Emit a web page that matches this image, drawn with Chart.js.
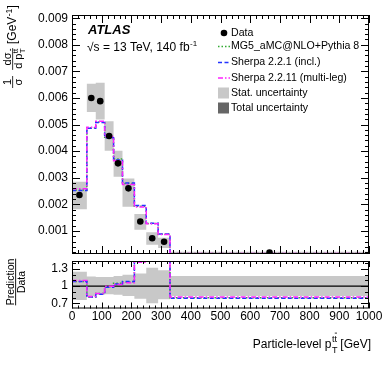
<!DOCTYPE html>
<html>
<head>
<meta charset="utf-8">
<script src="https://cdn.jsdelivr.net/npm/chart.js@4"></script>
<style>
  html, body { margin: 0; padding: 0; background: #fff; }
  #wrap { position: relative; width: 382px; height: 367px; }
  #main { position: absolute; left: 0; top: 0; width: 382px; height: 258px; }
  #ratio { position: absolute; left: 0; top: 258px; width: 382px; height: 109px; }
</style>
</head>
<body>
<div id="wrap">
  <canvas id="main" width="382" height="258"></canvas>
  <canvas id="ratio" width="382" height="109"></canvas>
</div>
<script>
// bins of particle-level pT(ttbar) in GeV
const binEdges = [0, 50, 80, 110, 140, 170, 210, 250, 290, 330, 1000]
const binCenters = [25, 65, 95, 125, 155, 190, 230, 270, 310, 665]

// normalised cross-section [GeV^-1]
const dataValues = [0.00235, 0.00600, 0.00588, 0.00457, 0.00354, 0.00260, 0.00135, 0.00072, 0.00059, 0.00018]
const statLow = [0.00181, 0.00547, 0.00519, 0.00401, 0.00304, 0.00191, 0.00104, 0.00048, 0.00036, 0.00015]
const statHigh = [0.00285, 0.00653, 0.00657, 0.00512, 0.00401, 0.00297, 0.00163, 0.00095, 0.00074, 0.00021]
const mg5Values = [0.00254, 0.00488, 0.00510, 0.00452, 0.00370, 0.00278, 0.00193, 0.00128, 0.00087, 0.000145]
const sherpa221Values = [0.00252, 0.00486, 0.00508, 0.00450, 0.00367, 0.00280, 0.00195, 0.00129, 0.00088, 0.000143]
const sherpa2211Values = [0.00258, 0.00490, 0.00512, 0.00455, 0.00364, 0.00274, 0.00190, 0.00127, 0.00086, 0.000147]

// prediction / data
const mg5Ratio = [1.08, 0.81, 0.87, 0.99, 1.05, 1.07, 1.43, 1.78, 1.47, 0.80]
const sherpa221Ratio = [1.08, 0.81, 0.86, 0.98, 1.04, 1.08, 1.44, 1.79, 1.49, 0.79]
const sherpa2211Ratio = [1.10, 0.82, 0.87, 1.00, 1.03, 1.06, 1.42, 1.77, 1.46, 0.81]
const ratioBandLow = [0.76, 0.83, 0.85, 0.86, 0.85, 0.83, 0.78, 0.70, 0.77, 0.83]
const ratioBandHigh = [1.25, 1.17, 1.16, 1.16, 1.18, 1.20, 1.22, 1.32, 1.28, 1.18]

// axis labels
const mainYTicks = [0.001, 0.002, 0.003, 0.004, 0.005, 0.006, 0.007, 0.008, 0.009]
const ratioYTicks = [0.7, 1, 1.3]
const xTicks = [0, 100, 200, 300, 400, 500, 600, 700, 800, 900, 1000]

const ff = '"Liberation Sans", Arial, Helvetica, sans-serif'
const statGrey = '#c8c8c8'
const totalGrey = '#666666'
const mg5Colour = '#33aa33'
const sherpa221Colour = '#2233ff'
const sherpa2211Colour = '#ff22ff'
const mg5Dash = [1.5, 2]
const sherpa221Dash = [4, 2.5]
const sherpa2211Dash = [5, 2, 1.5, 2]

// one point per bin edge, last value repeated so the final step closes at 1000
function steps(values) {
  return binEdges.map((x, i) => ({ x, y: values[Math.min(i, values.length - 1)] }))
}

function stepLine(label, values, colour, dash) {
  return {
    label, data: steps(values), stepped: true, borderColor: colour, borderWidth: 1.5,
    borderDash: dash, pointRadius: 0, fill: false, clip: 0
  }
}

// keep chart.js from reserving room for half tick labels
function noScalePadding(s) {
  s.paddingTop = 0; s.paddingBottom = 0; s.paddingLeft = 0; s.paddingRight = 0
}

// frame with ROOT-style ticks on all four sides
const frameTicks = {
  id: 'frameTicks',
  afterDraw(chart, args, o) {
    if (!o.enabled) return
    const { ctx, chartArea: a, scales: { x, y } } = chart
    ctx.save()
    ctx.strokeStyle = '#000'
    ctx.lineWidth = 1
    const line = (x1, y1, x2, y2) => {
      ctx.beginPath(); ctx.moveTo(x1, y1); ctx.lineTo(x2, y2); ctx.stroke()
    }
    for (let k = 0; k * o.xMinor <= x.max + 1e-9; k++) {
      const v = k * o.xMinor
      const px = Math.round(x.getPixelForValue(v)) + 0.5
      const len = v % o.xMajor === 0 ? o.xMajorLen : o.xMinorLen
      line(px, a.bottom, px, a.bottom - len)
      line(px, a.top, px, a.top + len)
    }
    for (let k = Math.ceil(y.min / o.yMinor - 1e-6); k * o.yMinor <= y.max + 1e-9; k++) {
      const v = k * o.yMinor
      const major = o.yMajors.some(m => Math.abs(m - v) < o.yMinor * 0.01)
      const py = Math.round(y.getPixelForValue(v)) + 0.5
      const len = major ? o.yMajorLen : o.yMinorLen
      line(a.left, py, a.left + len, py)
      line(a.right, py, a.right - len, py)
    }
    ctx.strokeRect(a.left + 0.5, a.top + 0.5, a.right - a.left - 1, a.bottom - a.top - 1)
    ctx.restore()
  }
}

function drawTtbar(ctx, x, y, size) {
  ctx.font = `${size}px ${ff}`
  const w1 = ctx.measureText('t').width
  const w = ctx.measureText('tt').width
  ctx.fillText('tt', x, y)
  ctx.fillRect(x + w1 + 0.3, y - size * 0.98, w - w1 - 0.3, 0.8)
  return w
}

const mainTexts = {
  id: 'mainTexts',
  afterDraw(chart) {
    const ctx = chart.ctx
    ctx.save()
    ctx.fillStyle = '#000'
    ctx.textBaseline = 'alphabetic'

    // ATLAS label
    ctx.textAlign = 'left'
    ctx.font = `bold italic 13px ${ff}`
    ctx.fillText('ATLAS', 88, 34)
    ctx.font = `12px ${ff}`
    const s1 = '\u221As = 13 TeV, 140 fb'
    ctx.fillText(s1, 87, 51)
    const w1 = ctx.measureText(s1).width
    ctx.font = `8px ${ff}`
    ctx.fillText('-1', 87 + w1 + 0.5, 46)

    // legend
    const lx = 218, tx = 231
    ctx.font = `10.6px ${ff}`
    ctx.textBaseline = 'middle'
    ctx.beginPath(); ctx.arc(224, 33, 3.3, 0, Math.PI * 2); ctx.fill()
    ctx.fillText('Data', tx, 33)
    const lineItems = [
      [mg5Colour, mg5Dash, 'MG5_aMC@NLO+Pythia 8', 46.5],
      [sherpa221Colour, sherpa221Dash, 'Sherpa 2.2.1 (incl.)', 62.5],
      [sherpa2211Colour, sherpa2211Dash, 'Sherpa 2.2.11 (multi-leg)', 78]
    ]
    lineItems.forEach(([colour, dash, text, y]) => {
      ctx.save()
      ctx.strokeStyle = colour
      ctx.lineWidth = 1.5
      ctx.setLineDash(dash)
      ctx.beginPath(); ctx.moveTo(lx, y); ctx.lineTo(lx + 12, y); ctx.stroke()
      ctx.restore()
      ctx.fillText(text, tx, y)
    })
    ctx.fillStyle = statGrey
    ctx.fillRect(lx, 87.5, 11, 11)
    ctx.fillStyle = totalGrey
    ctx.fillRect(lx, 102.5, 11, 11)
    ctx.fillStyle = '#000'
    ctx.fillText('Stat. uncertainty', tx, 93)
    ctx.fillText('Total uncertainty', tx, 108)

    // y title: 1/sigma dsigma/dpT [GeV^-1]
    ctx.textBaseline = 'alphabetic'
    ctx.translate(0, 92)
    ctx.rotate(-Math.PI / 2)
    const fs = 11
    ctx.font = `${fs}px ${ff}`
    ctx.textAlign = 'center'
    ctx.fillText('1', 10, 11)
    ctx.fillText('\u03C3', 10, 21.5)
    ctx.fillRect(4, 12.3, 12, 0.8)
    ctx.textAlign = 'left'
    const wd = ctx.measureText('d ').width
    const wp = ctx.measureText('p').width
    ctx.font = `8px ${ff}`
    const wsup = ctx.measureText('tt').width
    const total = wd + wp + wsup
    const uc = 33
    const u0 = uc - total / 2
    ctx.font = `${fs}px ${ff}`
    ctx.fillText('d p', u0, 21.5)
    drawTtbar(ctx, u0 + wd + wp + 0.3, 17.8, 8)
    ctx.font = `8px ${ff}`
    ctx.fillText('T', u0 + wd + wp + 0.3, 25)
    ctx.font = `${fs}px ${ff}`
    ctx.textAlign = 'center'
    ctx.fillText('d\u03C3', uc, 11)
    ctx.fillRect(u0 - 1, 12.3, total + 2, 0.8)
    ctx.textAlign = 'left'
    ctx.font = `12px ${ff}`
    ctx.fillText('[GeV', 48, 16)
    let u = 48 + ctx.measureText('[GeV').width
    ctx.font = `8.5px ${ff}`
    ctx.fillText('-1', u + 0.3, 11.5)
    u += ctx.measureText('-1').width + 0.6
    ctx.font = `12px ${ff}`
    ctx.fillText(']', u, 16)
    ctx.restore()
  }
}

const ratioTexts = {
  id: 'ratioTexts',
  afterDraw(chart) {
    const ctx = chart.ctx
    ctx.save()
    ctx.fillStyle = '#000'
    ctx.textBaseline = 'alphabetic'

    // x title
    ctx.font = `12px ${ff}`
    const a = 'Particle-level p'
    const b = ' [GeV]'
    const wa = ctx.measureText(a).width
    const wb = ctx.measureText(b).width
    ctx.font = `9px ${ff}`
    const ws = ctx.measureText('tt').width
    const x0 = 370.5 - (wa + ws + wb)
    ctx.textAlign = 'left'
    ctx.font = `12px ${ff}`
    ctx.fillText(a, x0, 90)
    drawTtbar(ctx, x0 + wa + 0.5, 83.5, 9)
    ctx.font = `9px ${ff}`
    ctx.fillText('T', x0 + wa + 0.5, 95)
    ctx.font = `12px ${ff}`
    ctx.fillText(b, x0 + wa + ws + 0.5, 90)

    // y title: Prediction / Data
    ctx.translate(0, 24)
    ctx.rotate(-Math.PI / 2)
    ctx.font = `10.5px ${ff}`
    ctx.textAlign = 'center'
    const wpd = ctx.measureText('Prediction').width
    ctx.fillText('Prediction', 0, 14)
    ctx.fillRect(-wpd / 2, 15.2, wpd, 0.9)
    ctx.fillText('Data', 0, 25)
    ctx.restore()
  }
}

const tickFont = { family: ff, size: 12 }

// datasets listed first are drawn on top
new Chart(document.getElementById('main'), {
  type: 'line',
  data: {
    datasets: [
      {
        label: 'Data', data: binCenters.map((x, i) => ({ x, y: dataValues[i] })),
        showLine: false, pointRadius: 3.3, pointBackgroundColor: '#000', pointBorderWidth: 0, clip: 0
      },
      stepLine('Sherpa 2.2.11 (multi-leg)', sherpa2211Values, sherpa2211Colour, sherpa2211Dash),
      stepLine('Sherpa 2.2.1 (incl.)', sherpa221Values, sherpa221Colour, sherpa221Dash),
      stepLine('MG5_aMC@NLO+Pythia 8', mg5Values, mg5Colour, mg5Dash),
      { label: 'stat high', data: steps(statHigh), stepped: true, borderWidth: 0, pointRadius: 0, fill: false, clip: 0 },
      {
        label: 'Stat. uncertainty', data: steps(statLow), stepped: true, borderWidth: 0, pointRadius: 0,
        fill: '-1', backgroundColor: statGrey, clip: 0
      }
    ]
  },
  options: {
    responsive: false,
    animation: false,
    events: [],
    layout: { padding: { top: 15, right: 13, bottom: 2, left: 0 } },
    plugins: {
      legend: { display: false },
      tooltip: { enabled: false },
      frameTicks: {
        enabled: true, xMinor: 20, xMajor: 100, xMajorLen: 8, xMinorLen: 4,
        yMinor: 0.0002, yMajors: mainYTicks, yMajorLen: 8, yMinorLen: 4
      }
    },
    scales: {
      x: { type: 'linear', min: 0, max: 1000, display: false, afterFit: noScalePadding },
      y: {
        type: 'linear', min: 0.00013, max: 0.00912,
        afterBuildTicks: s => { s.ticks = mainYTicks.map(v => ({ value: v })) },
        afterFit: s => { s.width = 72; noScalePadding(s) },
        grid: { display: false, drawTicks: false },
        border: { display: false },
        ticks: { font: tickFont, color: '#000', padding: 4, callback: v => v.toFixed(3) }
      }
    }
  },
  plugins: [frameTicks, mainTexts]
})

new Chart(document.getElementById('ratio'), {
  type: 'line',
  data: {
    datasets: [
      stepLine('Sherpa 2.2.11 (multi-leg)', sherpa2211Ratio, sherpa2211Colour, sherpa2211Dash),
      stepLine('Sherpa 2.2.1 (incl.)', sherpa221Ratio, sherpa221Colour, sherpa221Dash),
      stepLine('MG5_aMC@NLO+Pythia 8', mg5Ratio, mg5Colour, mg5Dash),
      {
        label: 'unity', data: [{ x: 0, y: 1 }, { x: 1000, y: 1 }], borderColor: '#000',
        borderWidth: 1.2, pointRadius: 0, fill: false
      },
      { label: 'band high', data: steps(ratioBandHigh), stepped: true, borderWidth: 0, pointRadius: 0, fill: false, clip: 0 },
      {
        label: 'band low', data: steps(ratioBandLow), stepped: true, borderWidth: 0, pointRadius: 0,
        fill: '-1', backgroundColor: statGrey, clip: 0
      }
    ]
  },
  options: {
    responsive: false,
    animation: false,
    events: [],
    layout: { padding: { top: 3, right: 13, bottom: 0, left: 0 } },
    plugins: {
      legend: { display: false },
      tooltip: { enabled: false },
      frameTicks: {
        enabled: true, xMinor: 20, xMajor: 100, xMajorLen: 6, xMinorLen: 3,
        yMinor: 0.1, yMajors: ratioYTicks, yMajorLen: 8, yMinorLen: 4
      }
    },
    scales: {
      x: {
        type: 'linear', min: 0, max: 1000,
        afterBuildTicks: s => { s.ticks = xTicks.map(v => ({ value: v })) },
        afterFit: s => { s.height = 58.5; noScalePadding(s) },
        grid: { display: false, drawTicks: false },
        border: { display: false },
        ticks: { font: tickFont, color: '#000', padding: 1, maxRotation: 0, autoSkip: false, callback: v => String(v) }
      },
      y: {
        type: 'linear', min: 0.61, max: 1.44,
        afterBuildTicks: s => { s.ticks = ratioYTicks.map(v => ({ value: v })) },
        afterFit: s => { s.width = 72; noScalePadding(s) },
        grid: { display: false, drawTicks: false },
        border: { display: false },
        ticks: { font: tickFont, color: '#000', padding: 4, callback: v => String(v) }
      }
    }
  },
  plugins: [frameTicks, ratioTexts]
})
</script>
</body>
</html>
